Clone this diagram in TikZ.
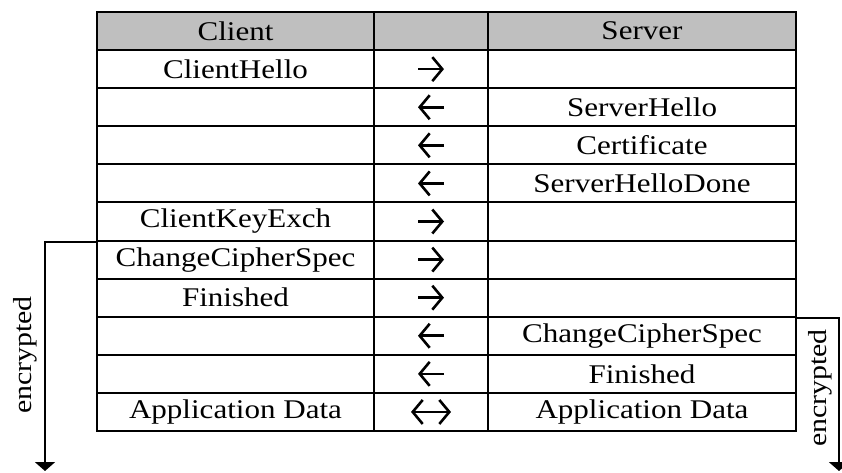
\documentclass[tikz,border=0pt]{standalone}
\usepackage{fontspec}
\setmainfont[FakeStretch=1.15]{Liberation Serif}
\usetikzlibrary{arrows.meta}
\begin{document}
\begin{tikzpicture}[x=1pt,y=-1pt,
  cell/.style={draw, line width=2pt, minimum height=38.09pt, inner sep=0pt,
               font=\fontsize{27}{29}\selectfont, anchor=center},
  headcell/.style={cell, fill=black!25},
  barb/.tip={Straight Barb[length=10pt,width=24pt,line width=2.6pt]},
  msgarrow/.style={line width=2.6pt, -barb},
  bothways/.style={line width=2.6pt, barb-barb},
  bracket/.style={line width=2pt, -{Triangle[length=9pt,width=20pt]}},
  sidelabel/.style={rotate=90, font=\fontsize{26}{28}\selectfont, inner sep=0pt}]
\useasboundingbox (0,0) rectangle (842,472);
\fill[white] (0,0) rectangle (842,472);

% table rows: client column, direction column, server column
\foreach \i/\l/\r in {0/Client/Server, 1/ClientHello/, 2//ServerHello,
    3//Certificate, 4//ServerHelloDone, 5/ClientKeyExch/, 6/ChangeCipherSpec/,
    7/Finished/, 8//ChangeCipherSpec, 9//Finished, 10/Application Data/Application Data}{
  \pgfmathsetmacro{\yc}{12+38.09*(\i+0.5)}
  \ifnum\i=0
    \node[headcell, minimum width=277pt] (L\i) at (235.5,\yc) {\l};
    \node[headcell, minimum width=114pt] (M\i) at (431,\yc) {};
    \node[headcell, minimum width=308pt] (R\i) at (642,\yc) {\r};
  \else
    \node[cell, minimum width=277pt] (L\i) at (235.5,\yc) {\l};
    \node[cell, minimum width=114pt] (M\i) at (431,\yc) {};
    \node[cell, minimum width=308pt] (R\i) at (642,\yc) {\r};
  \fi
}

% message directions
\foreach \i in {1,5,6,7}
  \draw[msgarrow] ([xshift=-13pt]M\i.center) -- ([xshift=13pt]M\i.center);
\foreach \i in {2,3,4,8,9}
  \draw[msgarrow] ([xshift=13pt]M\i.center) -- ([xshift=-13pt]M\i.center);
\draw[bothways] ([xshift=-20pt]M10.center) -- ([xshift=20pt]M10.center);

% encrypted ranges
\coordinate (encLend) at (45,471);
\coordinate (encRend) at (839,471);
\draw[bracket] (L5.south west) -| (encLend);
\draw[bracket] (R7.south east) -| (encRend);
\node[sidelabel] (encL) at (25,355) {encrypted};
\node[sidelabel] (encR) at (820,388) {encrypted};
\end{tikzpicture}
\end{document}
